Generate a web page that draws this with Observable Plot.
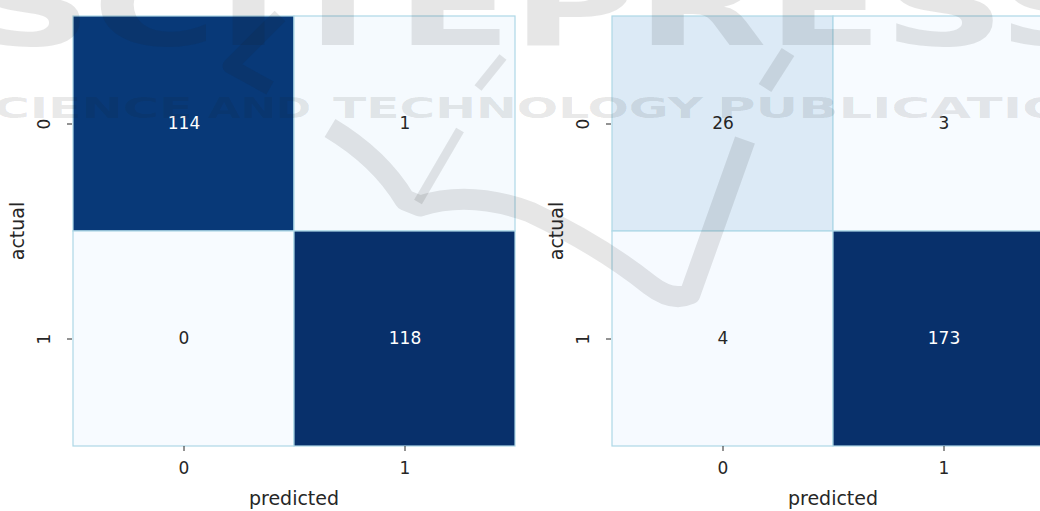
<!DOCTYPE html>
<html>
<head>
<meta charset="utf-8">
<script src="https://cdn.jsdelivr.net/npm/d3@7"></script>
<script src="https://cdn.jsdelivr.net/npm/@observablehq/plot@0.6"></script>
<style>
  html, body { margin: 0; padding: 0; background: #ffffff; }
  #page { position: relative; width: 1040px; height: 511px; overflow: hidden; background: #ffffff; }
  .panel { position: absolute; top: 0; width: 540px; height: 511px; }
  .panel svg { max-width: none !important; }
  #stamp { position: absolute; left: 0; top: 0; pointer-events: none; }
</style>
</head>
<body>
<div id="page">
  <div class="panel" id="left" style="left:0px"></div>
  <div class="panel" id="right" style="left:539px"></div>
  <svg id="stamp" width="1040" height="511" viewBox="0 0 1040 511">
    <g fill="#1a1a1a" fill-opacity="0.11" font-family="DejaVu Sans" font-weight="bold">
      <text x="-30" y="45" font-size="112" textLength="1150" lengthAdjust="spacingAndGlyphs">SCITEPRESS</text>
      <text x="-42" y="118" font-size="29" textLength="235" lengthAdjust="spacingAndGlyphs">SCIENCE</text>
      <text x="208" y="118" font-size="29" textLength="103" lengthAdjust="spacingAndGlyphs">AND</text>
      <text x="333" y="118" font-size="29" textLength="370" lengthAdjust="spacingAndGlyphs">TECHNOLOGY</text>
      <text x="717" y="118" font-size="29" textLength="432" lengthAdjust="spacingAndGlyphs">PUBLICATIONS</text>
    </g>
    <g fill="none" stroke="#1a1a1a" stroke-opacity="0.11" stroke-linejoin="round" stroke-linecap="butt">
      <path d="M 330 128 Q 380 158 405 200 L 420 206 Q 470 190 530 212 Q 600 245 650 285 Q 672 302 690 294 L 745 140" stroke-width="21"/>
      <path d="M 418 202 L 460 130" stroke-width="9"/>
      <path d="M 478 88 L 503 57" stroke-width="9"/>
      <path d="M 765 88 L 788 52" stroke-width="15"/>
      <path d="M 280 16 L 230 66 L 270 88" stroke-width="15"/>
    </g>
  </svg>
</div>
<script>
// Class labels shared by both confusion matrices
const actualClasses = ["0", "1"];
const predictedClasses = ["0", "1"];

// Counts, one row per actual class, one column per predicted class
const leftCounts = [
  [114, 1],
  [0, 118]
];
const rightCounts = [
  [26, 3],
  [4, 173]
];

const axisLabels = { x: "predicted", y: "actual" };

function toRows(counts) {
  const rows = [];
  actualClasses.forEach((a, i) => {
    predictedClasses.forEach((p, j) => {
      rows.push({ actual: a, predicted: p, count: counts[i][j] });
    });
  });
  return rows;
}

function confusionPlot(counts) {
  const rows = toRows(counts);
  const [lo, hi] = d3.extent(rows, d => d.count);
  // annotation colour follows the cell's luminance, light text on dark cells
  const textFill = d => {
    const c = d3.rgb(d3.interpolateBlues((d.count - lo) / (hi - lo)));
    const lin = v => { v /= 255; return v <= 0.03928 ? v / 12.92 : Math.pow((v + 0.055) / 1.055, 2.4); };
    const lum = 0.2126 * lin(c.r) + 0.7152 * lin(c.g) + 0.0722 * lin(c.b);
    return lum < 0.408 ? "#ffffff" : "#262626";
  };
  return Plot.plot({
    width: 540,
    height: 511,
    marginLeft: 72,
    marginRight: 25,
    marginTop: 15,
    marginBottom: 65,
    style: { fontFamily: "DejaVu Sans", fontSize: "17px", color: "#262626", background: "transparent", overflow: "visible", maxWidth: "none" },
    x: { domain: predictedClasses, padding: 0 },
    y: { domain: actualClasses, padding: 0 },
    color: { type: "linear", scheme: "blues", domain: [lo, hi] },
    marks: [
      Plot.cell(rows, { x: "predicted", y: "actual", fill: "count", stroke: "#add8e6", strokeWidth: 1.2 }),
      Plot.text(rows, { x: "predicted", y: "actual", text: d => String(d.count), fill: textFill, fontSize: 17 }),
      Plot.axisX({ tickSize: 5, tickPadding: 10, fontSize: 17, label: null }),
      Plot.axisX({ ticks: [], tickSize: 0, label: axisLabels.x, labelAnchor: "center", labelOffset: 58, fontSize: 19 }),
      Plot.axisY({ tickSize: 5, tickPadding: 18, tickRotate: -90, fontSize: 17, label: null }),
      Plot.axisY({ ticks: [], tickSize: 0, label: axisLabels.y, labelAnchor: "center", labelOffset: 62, fontSize: 19 })
    ]
  });
}

document.getElementById("left").append(confusionPlot(leftCounts));
document.getElementById("right").append(confusionPlot(rightCounts));
</script>
</body>
</html>
